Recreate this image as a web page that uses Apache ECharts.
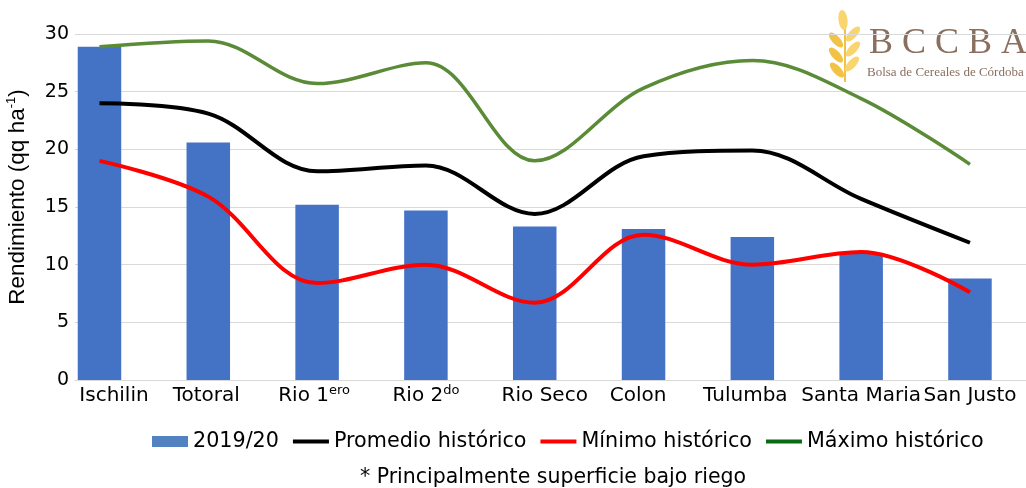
<!DOCTYPE html>
<html>
<head>
<meta charset="utf-8">
<script src="https://cdn.jsdelivr.net/npm/echarts@6/dist/echarts.min.js"></script>
<style>
  html, body { margin: 0; padding: 0; background: #ffffff; }
  #chart { width: 1026px; height: 488px; }
</style>
</head>
<body>
<div id="chart"></div>
<script>
// Departments and their yields (qq/ha)
const categories = ['Ischilin', 'Totoral', 'Rio 1', 'Rio 2', 'Rio Seco', 'Colon', 'Tulumba', 'Santa Maria', 'San Justo'];
const categorySup = ['', '', 'ero', 'do', '', '', '', '', ''];
const campaign2019 = [28.9, 20.6, 15.2, 14.7, 13.3, 13.1, 12.4, 11.0, 8.8];
const promedioHistorico = [24.0, 23.1, 18.1, 18.6, 14.4, 19.4, 19.9, 15.7, 11.9];
const minimoHistorico = [19.0, 15.9, 8.4, 10.0, 6.7, 12.6, 10.0, 11.1, 7.6];
const maximoHistorico = [28.9, 29.4, 25.7, 27.5, 19.0, 25.3, 27.7, 24.4, 18.7];
const yTicks = [0, 5, 10, 15, 20, 25, 30];

// horizontal nudges (px) of the category captions
const captionShift = [14.5, -2, -3, 0, 10, -5.5, -7, 0, 0];

const FONT = 'DejaVu Sans';
const pairs = arr => arr.map((v, i) => [i, v]);
const catIndex = categories.map((_, i) => i);

const chart = echarts.init(document.getElementById('chart'), null, { renderer: 'canvas' });

// wheat emblem of the logo
const grainA = '#F8D56E', grainB = '#F2C247';
const wheat = [
  { type: 'line', shape: { x1: 845, y1: 26, x2: 845, y2: 82 }, style: { stroke: grainB, lineWidth: 2 } },
  { type: 'ellipse', shape: { cx: 0, cy: 0, rx: 4.5, ry: 10 }, x: 843, y: 20, rotation: 0.12, style: { fill: grainA } },
  { type: 'ellipse', shape: { cx: 0, cy: 0, rx: 4, ry: 9.5 }, x: 853, y: 34, rotation: -0.75, style: { fill: grainA } },
  { type: 'ellipse', shape: { cx: 0, cy: 0, rx: 4, ry: 9.5 }, x: 853, y: 49, rotation: -0.75, style: { fill: grainA } },
  { type: 'ellipse', shape: { cx: 0, cy: 0, rx: 4, ry: 9.5 }, x: 852, y: 64, rotation: -0.75, style: { fill: grainA } },
  { type: 'ellipse', shape: { cx: 0, cy: 0, rx: 4, ry: 9.5 }, x: 836, y: 40, rotation: 0.75, style: { fill: grainB } },
  { type: 'ellipse', shape: { cx: 0, cy: 0, rx: 4, ry: 9.5 }, x: 836, y: 55, rotation: 0.75, style: { fill: grainB } },
  { type: 'ellipse', shape: { cx: 0, cy: 0, rx: 4, ry: 9.5 }, x: 837, y: 70, rotation: 0.75, style: { fill: grainB } }
];

const lineIcon = 'path://M0,0H35V4H0Z';

const option = {
  backgroundColor: '#ffffff',
  animation: false,
  grid: { left: 75, right: 0, top: 34, bottom: 108, containLabel: false, outerBoundsMode: 'none' },
  xAxis: {
    type: 'value',
    min: -0.225,
    max: 8.515,
    axisLine: { show: true, lineStyle: { color: '#d9d9d9', width: 1 } },
    axisTick: { show: false },
    splitLine: { show: false },
    axisLabel: {
      customValues: catIndex,
      hideOverlap: false,
      margin: 4,
      color: '#000',
      fontFamily: FONT,
      fontSize: 20,
      formatter: function (v) {
        const i = Math.round(v);
        const s = captionShift[i] || 0;
        let txt = '{n|' + categories[i] + '}' + (categorySup[i] ? '{s|' + categorySup[i] + '}' : '');
        if (s > 0) txt = '{p' + i + '| }' + txt;
        if (s < 0) txt = txt + '{p' + i + '| }';
        return txt;
      },
      rich: Object.assign({
        n: { fontFamily: FONT, fontSize: 20, color: '#000', lineHeight: 24 },
        s: { fontFamily: FONT, fontSize: 13, color: '#000', lineHeight: 24, verticalAlign: 'top' }
      }, Object.fromEntries(captionShift.map((s, i) => ['p' + i, { width: Math.abs(s) * 2, fontSize: 4, lineHeight: 24 }])))
    }
  },
  yAxis: {
    type: 'value',
    min: 0,
    max: 30,
    interval: 5,
    axisLine: { show: false },
    axisTick: { show: false },
    splitLine: { lineStyle: { color: '#d9d9d9', width: 1 } },
    axisLabel: {
      margin: 6,
      color: '#000',
      fontFamily: FONT,
      fontSize: 19,
      customValues: yTicks
    },
    name: '{t|Rendimiento (qq ha}{s|-1}{t|)}',
    nameLocation: 'middle',
    nameRotate: 90,
    nameGap: 44,
    nameTextStyle: {
      padding: [0, 0, 0, 20],
      rich: {
        t: { fontFamily: 'Liberation Sans', fontSize: 22.5, color: '#000', lineHeight: 26 },
        s: { fontFamily: 'Liberation Sans', fontSize: 13, color: '#000', lineHeight: 26, verticalAlign: 'top' }
      }
    }
  },
  legend: {
    left: 147,
    top: 426,
    itemWidth: 36,
    itemHeight: 11,
    itemGap: 14,
    textStyle: { fontFamily: FONT, fontSize: 20.7, color: '#000' },
    data: [
      { name: '2019/20', icon: 'rect', itemStyle: { color: '#5283C0' } },
      { name: 'Promedio histórico', icon: lineIcon, itemStyle: { color: '#000000' } },
      { name: 'Mínimo histórico', icon: lineIcon, itemStyle: { color: '#FF0000' } },
      { name: 'Máximo histórico', icon: lineIcon, itemStyle: { color: '#0B6B12' } }
    ]
  },
  series: [
    {
      name: '2019/20',
      type: 'bar',
      data: pairs(campaign2019),
      barWidth: 43.5,
      itemStyle: { color: '#4472C4' },
      z: 1
    },
    {
      name: 'Promedio histórico',
      type: 'line',
      data: pairs(promedioHistorico),
      smooth: 0.35,
      symbol: 'none',
      lineStyle: { color: '#000000', width: 4 },
      itemStyle: { color: '#000000' },
      z: 3
    },
    {
      name: 'Mínimo histórico',
      type: 'line',
      data: pairs(minimoHistorico),
      smooth: 0.35,
      symbol: 'none',
      lineStyle: { color: '#FF0000', width: 4 },
      itemStyle: { color: '#FF0000' },
      z: 3
    },
    {
      name: 'Máximo histórico',
      type: 'line',
      data: pairs(maximoHistorico),
      smooth: 0.35,
      symbol: 'none',
      lineStyle: { color: '#5A8B37', width: 3.5 },
      itemStyle: { color: '#0B6B12' },
      z: 3
    }
  ],
  graphic: [
    {
      type: 'text',
      x: 553, y: 478,
      style: {
        text: '* Principalmente superficie bajo riego',
        fontFamily: FONT, fontSize: 20.5, fill: '#000',
        textAlign: 'center', textVerticalAlign: 'middle'
      }
    },
    {
      type: 'group',
      z: 0,
      children: wheat.concat([
        {
          type: 'text', x: 869, y: 44,
          style: { text: 'B C C B A', fontFamily: 'Liberation Serif', fontSize: 36, fill: '#8A6F5E', textVerticalAlign: 'middle' }
        },
        {
          type: 'text', x: 867, y: 73,
          style: { text: 'Bolsa de Cereales de Córdoba', fontFamily: 'Liberation Serif', fontSize: 13, fill: '#8A6F5E', textVerticalAlign: 'middle' }
        }
      ])
    }
  ]
};

chart.setOption(option);
</script>
</body>
</html>
